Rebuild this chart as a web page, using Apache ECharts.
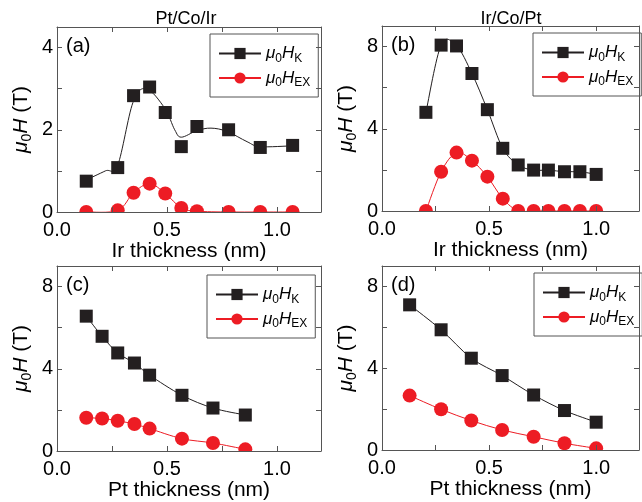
<!DOCTYPE html>
<html>
<head>
<meta charset="utf-8">
<script src="https://cdn.jsdelivr.net/npm/echarts@6/dist/echarts.min.js"></script>
<style>
  html, body { margin: 0; padding: 0; background: #fff; }
  #chart { width: 642px; height: 502px; }
</style>
</head>
<body>
<div id="chart"></div>
<script>
// ---- data (thickness in nm, fields in T) ----
// (a) Pt/Co/Ir, Ir thickness scan
const irA   = [0.133, 0.276, 0.348, 0.421, 0.492, 0.565, 0.636, 0.780, 0.924, 1.071];
const hkA   = [0.75, 1.08, 2.83, 3.04, 2.42, 1.59, 2.08, 2.00, 1.57, 1.62];
const hexA  = [0.00, 0.04, 0.47, 0.69, 0.45, 0.10, 0.02, 0.00, 0.00, 0.00];
// guide-to-the-eye curve for the H_K data of (a)
const guideXA = [0.133, 0.22, 0.276, 0.345, 0.406, 0.489, 0.535, 0.565, 0.636, 0.70, 0.773, 0.864, 0.924, 1.071];
const guideYA = [0.78, 1.00, 1.14, 2.66, 3.00, 2.53, 2.00, 1.82, 1.98, 2.04, 1.96, 1.71, 1.59, 1.61];

// (b) Ir/Co/Pt, Ir thickness scan
const irB   = [0.205, 0.276, 0.348, 0.420, 0.492, 0.564, 0.636, 0.708, 0.777, 0.852, 0.924, 1.000];
const hkB   = [4.80, 8.07, 8.03, 6.69, 4.93, 3.05, 2.24, 1.99, 1.99, 1.91, 1.91, 1.78];
const hexB  = [0.00, 1.91, 2.84, 2.45, 1.67, 0.60, 0.00, 0.00, 0.00, 0.00, 0.00, 0.00];

// (c) Pt/Co/Ir, Pt thickness scan
const ptC   = [0.133, 0.205, 0.276, 0.352, 0.421, 0.568, 0.709, 0.856];
const hkC   = [6.56, 5.58, 4.77, 4.28, 3.69, 2.71, 2.09, 1.75];
const hexC  = [1.62, 1.58, 1.47, 1.31, 1.09, 0.60, 0.39, 0.08];

// (d) Ir/Co/Pt, Pt thickness scan
const ptD   = [0.129, 0.276, 0.417, 0.561, 0.708, 0.852, 1.000];
const hkD   = [7.10, 5.88, 4.49, 3.64, 2.69, 1.93, 1.36];
const hexD  = [2.66, 1.99, 1.44, 0.98, 0.65, 0.33, 0.08];

// axis text
const xNames = ['Ir thickness (nm)', 'Ir thickness (nm)', 'Pt thickness (nm)', 'Pt thickness (nm)'];
const tags = ['(a)', '(b)', '(c)', '(d)'];
const stackTitles = ['Pt/Co/Ir', 'Ir/Co/Pt'];
const xTickLabels = ['0.0', '0.5', '1.0'];
const yTickLabelsA = ['0', '2', '4'];
const yTickLabelsBCD = ['0', '4', '8'];

// ---- layout & style ----
const FONT = '"Liberation Sans", Arial, Helvetica, sans-serif';
const BLACK = '#231f20';
const RED = '#ed1c24';
const FRAME = '#555';

const grids = [
  { left: 57,  top: 27,  width: 264, height: 185 },
  { left: 382, top: 26,  width: 264, height: 185 },
  { left: 57,  top: 266, width: 264, height: 185 },
  { left: 382, top: 266, width: 264, height: 184 }
];
const legendPos = [
  { left: 210, top: 34 },
  { left: 533, top: 33 },
  { left: 207, top: 275 },
  { left: 534, top: 273 }
];

const panels = [
  { xs: irA, k: hkA, ex: hexA, yMax: 4.5, yStep: 2, yLabels: yTickLabelsA,   kCurve: [guideXA, guideYA] },
  { xs: irB, k: hkB, ex: hexB, yMax: 9,   yStep: 4, yLabels: yTickLabelsBCD, kCurve: null },
  { xs: ptC, k: hkC, ex: hexC, yMax: 9,   yStep: 4, yLabels: yTickLabelsBCD, kCurve: null },
  { xs: ptD, k: hkD, ex: hexD, yMax: 9,   yStep: 4, yLabels: yTickLabelsBCD, kCurve: null }
];

const pairs = (xs, ys) => xs.map((x, i) => [x, ys[i]]);
const onStep = (v, step) => Math.abs(v / step - Math.round(v / step)) < 1e-6;

// Catmull-Rom spline through the given points, drawn in pixel space as cubic Bezier segments
function splineSeries(pts, color, axisIndex) {
  return {
    type: 'custom', xAxisIndex: axisIndex, yAxisIndex: axisIndex,
    silent: true, clip: true, z: 2, data: pts,
    renderItem: (params, api) => {
      if (params.dataIndex !== 0) return null;
      const P = pts.map(d => api.coord(d));
      const children = [];
      for (let k = 0; k < P.length - 1; k++) {
        const p0 = P[k - 1] || P[k], p1 = P[k], p2 = P[k + 1], p3 = P[k + 2] || P[k + 1];
        children.push({
          type: 'bezierCurve',
          shape: {
            x1: p1[0], y1: p1[1], x2: p2[0], y2: p2[1],
            cpx1: p1[0] + (p2[0] - p0[0]) / 6, cpy1: p1[1] + (p2[1] - p0[1]) / 6,
            cpx2: p2[0] - (p3[0] - p1[0]) / 6, cpy2: p2[1] - (p3[1] - p1[1]) / 6
          },
          style: { stroke: color, fill: null, lineWidth: 1 }
        });
      }
      return { type: 'group', children };
    }
  };
}

const muRich = {
  m: { fontFamily: FONT, fontSize: 17, fontStyle: 'italic', color: '#000', lineHeight: 22 },
  s: { fontFamily: FONT, fontSize: 12, color: '#000', verticalAlign: 'bottom', lineHeight: 14 }
};
const nameRich = {
  m: { fontFamily: FONT, fontSize: 21, fontStyle: 'italic', color: '#000', lineHeight: 26 },
  s: { fontFamily: FONT, fontSize: 14, color: '#000', verticalAlign: 'bottom', lineHeight: 16 },
  n: { fontFamily: FONT, fontSize: 21, color: '#000', lineHeight: 26 }
};

const tickCommon = { show: true, inside: true, length: 5, lineStyle: { color: FRAME, width: 1 } };
const minorCommon = { show: true, splitNumber: 2, length: 5, lineStyle: { color: FRAME, width: 1 } };
const lineCommon = { show: true, onZero: false, lineStyle: { color: FRAME, width: 1 } };

const xAxes = [], yAxes = [], series = [], legends = [], graphics = [];

panels.forEach((p, i) => {
  const t = 'abcd'[i];
  // bottom / left axes with labels
  xAxes.push({
    type: 'value', gridIndex: i, position: 'bottom', min: 0, max: 1.2, interval: 0.5, z: 20,
    axisLine: lineCommon, axisTick: tickCommon, minorTick: minorCommon,
    splitLine: { show: false },
    axisLabel: {
      margin: 8, fontFamily: FONT, fontSize: 20, color: '#000',
      formatter: v => onStep(v, 0.5) ? xTickLabels[Math.round(v / 0.5)] || '' : ''
    },
    name: xNames[i], nameLocation: 'middle', nameGap: 22,
    nameTextStyle: { fontFamily: FONT, fontSize: 21, color: '#000' }
  });
  yAxes.push({
    type: 'value', gridIndex: i, position: 'left', min: 0, max: p.yMax, interval: p.yStep, z: 20,
    axisLine: lineCommon, axisTick: tickCommon, minorTick: minorCommon,
    splitLine: { show: false },
    axisLabel: {
      margin: 4, fontFamily: FONT, fontSize: 20, color: '#000',
      formatter: v => onStep(v, p.yStep) ? p.yLabels[Math.round(v / p.yStep)] || '' : ''
    },
    name: '{m|μ}{s|0}{m|H}{n| (T)}', nameLocation: 'middle', nameGap: 23,
    nameTextStyle: { rich: nameRich }
  });

  // connecting curves
  const kCurvePts = p.kCurve ? pairs(p.kCurve[0], p.kCurve[1]) : pairs(p.xs, p.k);
  series.push(splineSeries(kCurvePts, BLACK, i));
  series.push(splineSeries(pairs(p.xs, p.ex), RED, i));

  // markers (the series line itself is hidden; the curves above carry the line)
  series.push({
    name: 'K-' + t, type: 'line', xAxisIndex: i, yAxisIndex: i,
    data: pairs(p.xs, p.k),
    symbol: 'rect', symbolSize: 13,
    itemStyle: { color: BLACK },
    lineStyle: { color: BLACK, width: 1, opacity: 0 }, z: 3
  });
  series.push({
    name: 'EX-' + t, type: 'line', xAxisIndex: i, yAxisIndex: i,
    data: pairs(p.xs, p.ex),
    symbol: 'circle', symbolSize: 14,
    itemStyle: { color: RED },
    lineStyle: { color: RED, width: 1, opacity: 0 }, z: 3
  });

  // legend boxes
  legends.push({
    orient: 'vertical', left: legendPos[i].left, top: legendPos[i].top,
    data: ['K-' + t, 'EX-' + t],
    borderColor: FRAME, borderWidth: 1, padding: [11, 8, 8, 8], itemGap: 5,
    itemWidth: 42, itemHeight: 14, selectedMode: false,
    lineStyle: { opacity: 1 },
    formatter: name => name[0] === 'K' ? '{m|μ}{s|0}{m|H}{s|K}' : '{m|μ}{s|0}{m|H}{s|EX}',
    textStyle: { rich: muRich }
  });

  // white strip just under the bottom axis so markers sitting on it show as half discs
  const g = grids[i];
  graphics.push({
    type: 'rect', silent: true, z: 10,
    shape: { x: g.left + 1, y: g.top + g.height + 1, width: g.width + 8, height: 6 },
    style: { fill: '#fff' }
  });
  // panel tag
  graphics.push({
    type: 'text', silent: true, z: 30,
    style: { x: g.left + 9, y: g.top + 19, text: tags[i], textAlign: 'left', textVerticalAlign: 'middle',
             font: '20px ' + FONT, fill: '#000' }
  });
});

// mirrored top / right axes (ticks only) to close each frame
panels.forEach((p, i) => {
  xAxes.push({
    type: 'value', gridIndex: i, position: 'top', min: 0, max: 1.2, interval: 0.5, z: 20,
    axisLine: lineCommon, axisTick: tickCommon, minorTick: minorCommon,
    splitLine: { show: false }, axisLabel: { show: false }
  });
  yAxes.push({
    type: 'value', gridIndex: i, position: 'right', min: 0, max: p.yMax, interval: p.yStep, z: 20,
    axisLine: lineCommon, axisTick: tickCommon, minorTick: minorCommon,
    splitLine: { show: false }, axisLabel: { show: false }
  });
});

// column headings
graphics.push({
  type: 'text', silent: true,
  style: { x: 186, y: 19, text: stackTitles[0], textAlign: 'center', textVerticalAlign: 'middle',
           font: '18px ' + FONT, fill: '#000' }
});
graphics.push({
  type: 'text', silent: true,
  style: { x: 511, y: 19, text: stackTitles[1], textAlign: 'center', textVerticalAlign: 'middle',
           font: '18px ' + FONT, fill: '#000' }
});

const chart = echarts.init(document.getElementById('chart'), null, { renderer: 'canvas' });
chart.setOption({
  backgroundColor: '#fff',
  animation: false,
  grid: grids.map(g => Object.assign({ containLabel: false }, g)),
  xAxis: xAxes,
  yAxis: yAxes,
  legend: legends,
  series: series,
  graphic: graphics
});
</script>
</body>
</html>
